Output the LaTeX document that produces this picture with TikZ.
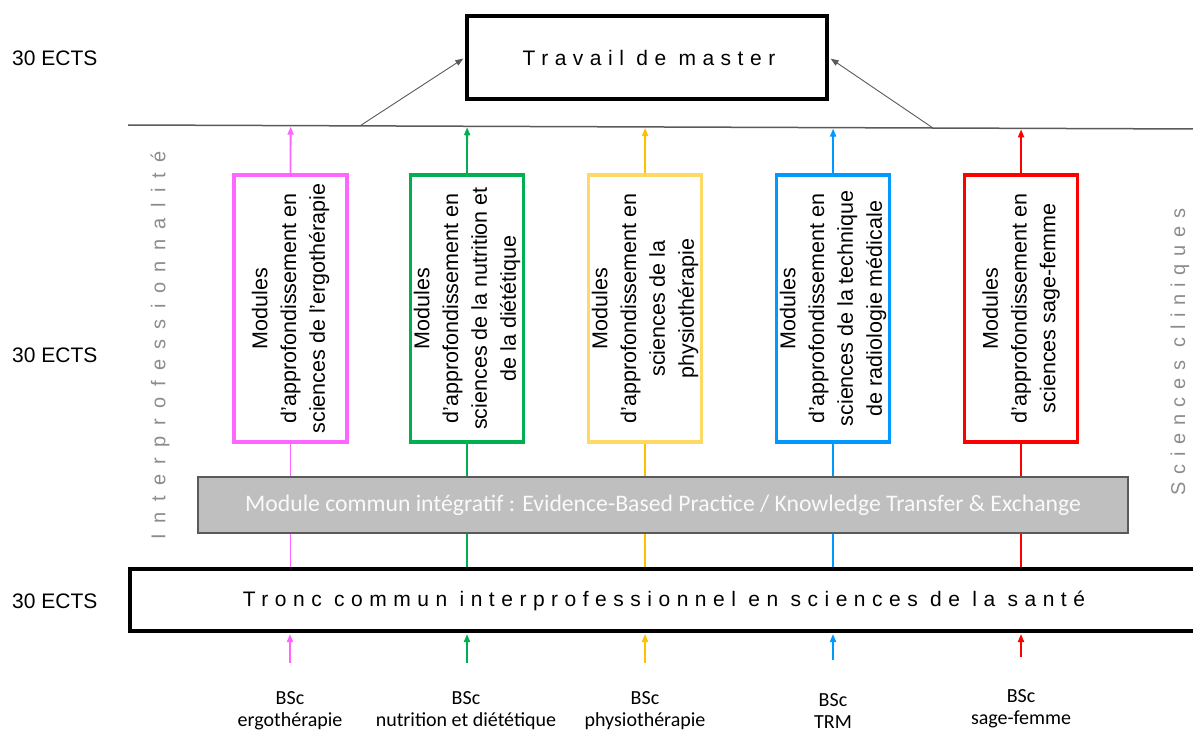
\documentclass[tikz,border=0pt]{standalone}
\usepackage{fontspec}
\setmainfont{Liberation Sans}
\newfontfamily\spacedA[LetterSpace=31]{Liberation Sans}
\newfontfamily\spacedB[LetterSpace=52]{Liberation Sans}
\newfontfamily\spacedC[LetterSpace=38]{Liberation Sans}
\newfontfamily\condfont{Carlito}
\usetikzlibrary{arrows.meta,backgrounds,calc}
\definecolor{cpink}{RGB}{255,102,255}
\definecolor{cgreen}{RGB}{0,176,80}
\definecolor{cyellowbox}{RGB}{255,217,102}
\definecolor{cyellow}{RGB}{255,192,0}
\definecolor{cblue}{RGB}{0,153,255}
\definecolor{cred}{RGB}{255,0,0}
\definecolor{cgraybox}{RGB}{191,191,191}
\definecolor{cgraytext}{RGB}{140,140,140}
\definecolor{clinegray}{RGB}{90,90,90}
\begin{document}
\begin{tikzpicture}[x=1pt,y=-1pt,
  bigbox/.style={draw=black,line width=4pt,fill=white,inner sep=0pt},
  modbox/.style={draw=#1,line width=3.5pt,fill=white,minimum width=113pt,minimum height=267pt,inner sep=0pt},
  modtext/.style={rotate=90,align=center,font=\fontsize{21.5}{28.8}\selectfont,inner sep=0pt},
  tip/.style={-{Triangle[length=8pt,width=6pt]}},
  conn/.style={line width=1.8pt,draw=#1},
  ects/.style={font=\fontsize{21}{25}\selectfont,anchor=west,inner sep=0pt},
  bsc/.style={font=\condfont\fontsize{20}{22}\selectfont,align=center,inner sep=0pt},
  side/.style={rotate=90,text=cgraytext,inner sep=0pt}
]
\useasboundingbox (0,0) rectangle (1193,733);

% ECTS labels
\node[ects] (e1) at (12,58) {30 ECTS};
\node[ects] (e2) at (12,355) {30 ECTS};
\node[ects] (e3) at (12,601) {30 ECTS};

% top line
\coordinate (L) at (128,125);
\coordinate (R) at (1200,129);
\draw[clinegray,line width=1.5pt] (L) -- (R);

% Travail de master
\node[bigbox,minimum width=360pt,minimum height=83pt] (master) at (647,57.5) {};
\node[font=\spacedA\fontsize{21}{25}\selectfont,inner sep=0pt] (mastertxt) at (649,58) {Travail de master};
\coordinate (ml) at ($(L)!(360,126)!(R)$);
\coordinate (mr) at ($(L)!(933,128)!(R)$);
\draw[clinegray,line width=0.9pt,-{Triangle[length=8pt,width=6pt]},shorten >=2pt] (ml) -- (master.west);
\draw[clinegray,line width=0.9pt,-{Triangle[length=8pt,width=6pt]},shorten >=2pt] (mr) -- (master.east);

% module boxes
\node[modbox=cpink] (mp) at (290.5,308.5) {};
\node[modbox=cgreen] (mg) at (467,308.5) {};
\node[modbox=cyellowbox] (my) at (645,308.5) {};
\node[modbox=cblue] (mb) at (833,308.5) {};
\node[modbox=cred] (mr2) at (1021,308.5) {};

\node[modtext] (tp) at (mp) {Modules\\d'approfondissement en\\sciences de l'ergothérapie};
\node[modtext] (tg) at (mg) {Modules\\d'approfondissement en\\sciences de la nutrition et\\de la diététique};
\node[modtext] (ty) at (my) {Modules\\d'approfondissement en\\sciences de la\\physiothérapie};
\node[modtext] (tb) at (mb) {Modules\\d'approfondissement en\\sciences de la technique\\de radiologie médicale};
\node[modtext] (tr) at (mr2) {Modules\\d'approfondissement en\\sciences sage-femme};

% arrows from modules to top line
\foreach \m/\c in {mp/cpink,mg/cgreen,my/cyellow,mb/cblue,mr2/cred}{
  \draw[conn=\c,tip,shorten >=1pt] (\m.north) -- ($(L)!(\m.north)!(R)$);
}

% tronc commun
\node[bigbox,minimum width=1070pt,minimum height=62pt] (tronc) at (665,600) {};
\node[font=\spacedA\fontsize{21}{25}\selectfont,inner sep=0pt] (tronctxt) at (664,601) {Tronc commun interprofessionnel en sciences de la santé};

% vertical lines behind integrative module
\begin{scope}[on background layer]
\foreach \m/\c in {mp/cpink,mg/cgreen,my/cyellow,mb/cblue,mr2/cred}{
  \draw[conn=\c] (\m.south) -- (\m.south |- tronc.north);
}
\end{scope}

% integrative module
\node[draw=clinegray,line width=1.5pt,fill=cgraybox,minimum width=930pt,minimum height=56pt,inner sep=0pt,
  font=\condfont\fontsize{23.7}{25}\selectfont,text=white!96!gray] (evb) at (663,505)
  {Module commun intégratif : Evidence-Based Practice / Knowledge Transfer \& Exchange};

% side labels
\node[side,font=\spacedB\fontsize{20}{22}\selectfont] (inter) at (160,345) {Interprofessionnalité};
\node[side,font=\spacedC\fontsize{20}{22}\selectfont] (clin) at (1180,352) {Sciences cliniques};

% BSc labels and arrows
\node[bsc] (bp) at (290,711) {BSc\\ergothérapie};
\node[bsc] (bg) at (466,711) {BSc\\nutrition et diététique};
\node[bsc] (by) at (645,711) {BSc\\physiothérapie};
\node[bsc] (bb) at (833,711) {BSc\\TRM};
\node[bsc] (br) at (1021,709) {BSc\\sage-femme};
\coordinate (sp) at (290,663);
\coordinate (sg) at (467,663);
\coordinate (sy) at (645,663);
\coordinate (sb) at (833,660);
\coordinate (sr) at (1021,657);
\foreach \s/\c in {sp/cpink,sg/cgreen,sy/cyellow,sb/cblue,sr/cred}{
  \draw[conn=\c,tip,shorten >=1pt] (\s) -- (\s |- tronc.south);
}
\end{tikzpicture}
\end{document}
